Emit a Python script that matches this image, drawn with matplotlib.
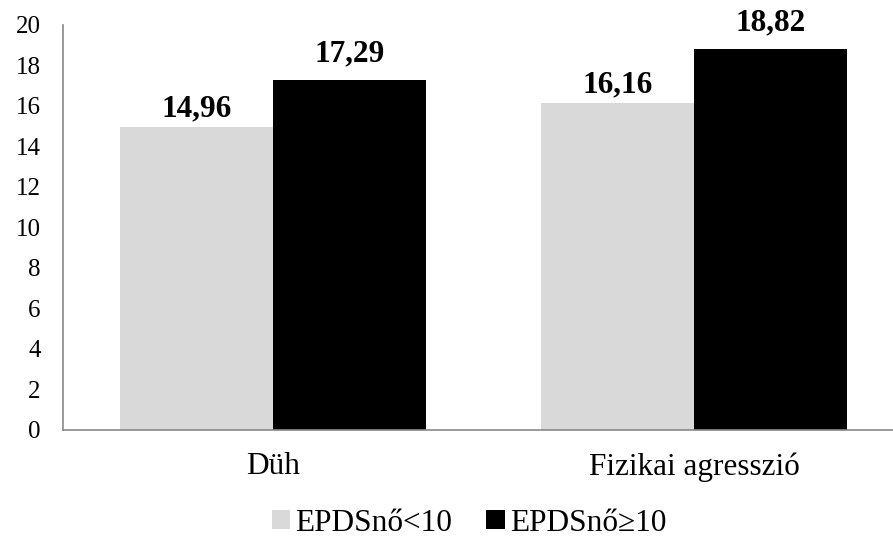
import matplotlib
matplotlib.use("Agg")
import matplotlib.pyplot as plt
import numpy as np

plt.rcParams['font.family'] = ['Liberation Serif', 'DejaVu Serif']

categories = ["Düh", "Fizikai agresszió"]
series_names = ["EPDSnő<10", "EPDSnő≥10"]
low_vals = [14.96, 16.16]
high_vals = [17.29, 18.82]
colors = ["#d9d9d9", "#000000"]

fig = plt.figure(figsize=(8.93, 5.46), dpi=100)
ax = fig.add_axes([0.0706, 0.2125, 0.9294, 0.7418])

x = np.arange(len(categories))
w = 0.364
b1 = ax.bar(x - w / 2, low_vals, w, color=colors[0], label=series_names[0])
b2 = ax.bar(x + w / 2, high_vals, w, color=colors[1], label=series_names[1])

# value labels above each bar, decimal comma
for bars, vals, off in [(b1, low_vals, 7.5), (b2, high_vals, 13.5)]:
    for rect, v in zip(bars, vals):
        ax.annotate(f"{v:.2f}".replace(".", ","),
                    (rect.get_x() + rect.get_width() / 2, v),
                    xytext=(0, off), textcoords="offset points",
                    ha="center", va="baseline", fontsize=22.5, fontweight="bold",
                    annotation_clip=False)

ax.set_ylim(0, 20)
ax.set_yticks(range(0, 21, 2))
ax.set_xlim(-0.5, 1.473)
ax.set_xticks(x)
ax.set_xticklabels(categories, fontsize=22.5)
ax.tick_params(axis="y", labelsize=18, length=0, pad=16)
ax.tick_params(axis="x", length=0, pad=16)

for s in ["top", "right"]:
    ax.spines[s].set_visible(False)
for s in ["left", "bottom"]:
    ax.spines[s].set_color("#898989")
    ax.spines[s].set_linewidth(1.2)

fig.legend(loc="center", bbox_to_anchor=(0.525, 0.042), ncol=2, frameon=False,
           fontsize=22.5, handlelength=0.6, handleheight=0.6,
           handletextpad=0.15, columnspacing=1.1, borderpad=0)

fig.savefig("out.png", dpi=100)
